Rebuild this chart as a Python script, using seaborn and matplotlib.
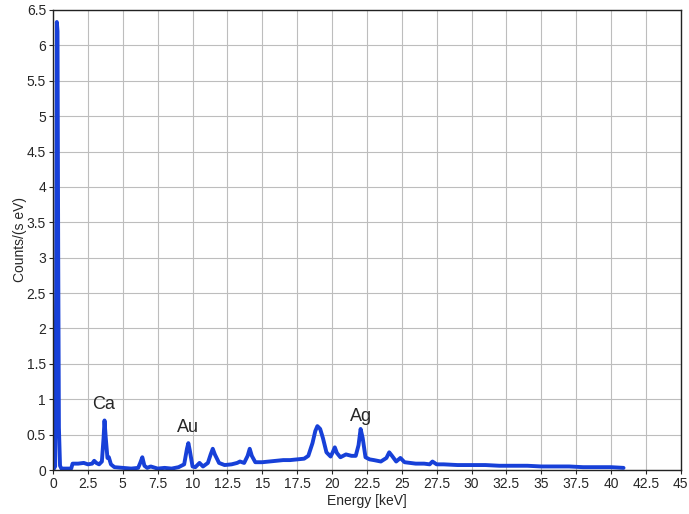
import numpy as np
import pandas as pd
import seaborn as sns
import matplotlib
matplotlib.use("Agg")
import matplotlib.pyplot as plt

energy = [0.0, 0.15, 0.22, 0.27, 0.32, 0.37, 0.42, 0.5, 0.6, 1.0, 1.3, 1.4, 1.8, 2.2, 2.5, 2.8,
          2.95, 3.1, 3.3, 3.5, 3.62, 3.69, 3.78, 3.9, 4.0, 4.15, 4.4, 5.0, 5.6, 6.1, 6.25, 6.4,
          6.55, 6.75, 7.0, 7.5, 8.0, 8.5, 9.0, 9.4, 9.6, 9.7, 9.8, 10.0, 10.2, 10.5, 10.75, 11.1,
          11.3, 11.45, 11.6, 11.9, 12.3, 12.8, 13.2, 13.4, 13.7, 13.95, 14.1, 14.25, 14.5, 15.0,
          15.5, 16.0, 16.5, 17.0, 17.5, 18.0, 18.3, 18.6, 18.8, 18.95, 19.15, 19.35, 19.6, 19.9,
          20.05, 20.2, 20.35, 20.6, 21.0, 21.4, 21.7, 21.9, 22.05, 22.2, 22.4, 22.7, 23.0, 23.5,
          23.9, 24.1, 24.3, 24.6, 24.9, 25.2, 25.6, 26.0, 26.6, 27.0, 27.2, 27.5, 28.0, 29.0,
          30.0, 31.0, 32.0, 33.0, 34.0, 35.0, 36.0, 37.0, 38.0, 39.0, 40.0, 40.9]
counts = [0.0, 0.05, 2.5, 6.33, 6.2, 3.0, 0.6, 0.06, 0.02, 0.02, 0.02, 0.09, 0.09, 0.1, 0.08, 0.09,
          0.13, 0.1, 0.08, 0.12, 0.45, 0.70, 0.45, 0.17, 0.18, 0.08, 0.04, 0.03, 0.02, 0.03, 0.1, 0.18,
          0.06, 0.03, 0.05, 0.02, 0.03, 0.02, 0.04, 0.08, 0.3, 0.38, 0.28, 0.05, 0.04, 0.1, 0.05, 0.1,
          0.22, 0.3, 0.22, 0.1, 0.07, 0.08, 0.1, 0.12, 0.1, 0.2, 0.3, 0.2, 0.11, 0.11,
          0.12, 0.13, 0.14, 0.14, 0.15, 0.16, 0.2, 0.38, 0.55, 0.62, 0.58, 0.45, 0.25, 0.19,
          0.25, 0.32, 0.24, 0.18, 0.22, 0.2, 0.2, 0.35, 0.58, 0.45, 0.18, 0.15, 0.14, 0.12,
          0.17, 0.25, 0.2, 0.12, 0.17, 0.11, 0.1, 0.09, 0.09, 0.08, 0.12, 0.08, 0.08, 0.07,
          0.07, 0.07, 0.06, 0.06, 0.06, 0.05, 0.05, 0.05, 0.04, 0.04, 0.04, 0.03]

labels = ["Ca", "Au", "Ag"]
label_x = [3.65, 9.65, 22.05]
label_y = [0.92, 0.6, 0.76]

xticks = np.arange(0, 45.01, 2.5)
yticks = np.arange(0, 6.51, 0.5)

df = pd.DataFrame({"Energy": energy, "Counts": counts})

sns.set_style("white")
plt.rcParams["font.family"] = ["Liberation Sans", "DejaVu Sans"]

fig = plt.figure(figsize=(6.89, 5.14), dpi=100)
ax = fig.add_axes([0.077, 0.0856, 0.911, 0.895])
sns.lineplot(data=df, x="Energy", y="Counts", ax=ax, color="#1740d8", lw=2.8, sort=False)

ax.set_xlim(0, 45)
ax.set_ylim(0, 6.5)
ax.set_xticks(xticks)
ax.set_yticks(yticks)
ax.set_xticklabels([f"{t:g}" for t in xticks], fontsize=10)
ax.set_yticklabels([f"{t:g}" for t in yticks], fontsize=10)
ax.grid(True, color="#bdbdbd", lw=0.8)
ax.tick_params(axis="both", direction="out", length=3, width=0.8, pad=2, bottom=True, left=True)
for s in ax.spines.values():
    s.set_color("#222222")
    s.set_linewidth(1.0)
ax.set_xlabel("Energy [keV]", fontsize=10, labelpad=2)
ax.set_ylabel("Counts/(s eV)", fontsize=10, labelpad=0)

for t, x, y in zip(labels, label_x, label_y):
    ax.text(x, y, t, fontsize=13, ha="center", va="center")

fig.savefig("out.png", dpi=100)
